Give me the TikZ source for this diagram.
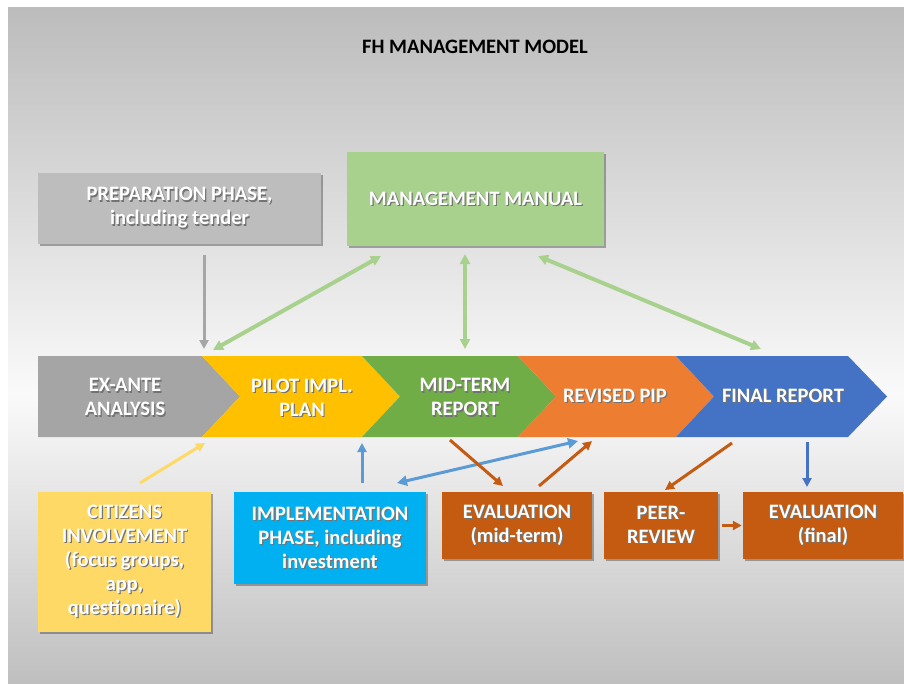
\documentclass[tikz,border=0pt]{standalone}
\usepackage{fontspec}
\setmainfont{Carlito}
\usetikzlibrary{arrows.meta,shadows}
\definecolor{bgtop}{HTML}{BCBCBC}
\definecolor{bgbot}{HTML}{BFBFBF}
\definecolor{bgmid}{HTML}{FAFAFA}
\definecolor{cprep}{HTML}{BDBDBD}
\definecolor{cmm}{HTML}{A9D18E}
\definecolor{cgray}{HTML}{A5A5A5}
\definecolor{cyel}{HTML}{FFC000}
\definecolor{cgreen}{HTML}{70AD47}
\definecolor{corange}{HTML}{ED7D31}
\definecolor{cblue}{HTML}{4472C4}
\definecolor{ccit}{HTML}{FFD966}
\definecolor{cimpl}{HTML}{00B0F0}
\definecolor{ceval}{HTML}{C55A11}
\definecolor{clblue}{HTML}{5B9BD5}
\definecolor{carrgray}{HTML}{A6A6A6}
\newcommand\shl[1]{\makebox[0pt][l]{\hspace{1.2pt}\raisebox{-1.2pt}{\textcolor{black!55}{#1}}}#1}
\tikzset{
  txt/.style={text=white, align=center, inner sep=0pt, font=\fontsize{20.5}{24}\selectfont\bfseries},
  box/.style={txt, inner sep=0pt, drop shadow={shadow xshift=2pt, shadow yshift=-2pt, opacity=.3, fill=black}},
  arr/.style={line width=3pt, -{Triangle[length=9pt,width=9pt]}},
  darr/.style={line width=4pt, {Triangle[length=10pt,width=10pt]}-{Triangle[length=10pt,width=10pt]}},
}
\begin{document}
\begin{tikzpicture}[x=1pt,y=-1pt]
\useasboundingbox (0,0) rectangle (904,683);
\fill[white] (0,0) rectangle (904,683);
\shade[top color=bgtop, bottom color=bgmid] (8,7) rectangle (904,395);
\shade[top color=bgmid, bottom color=bgbot] (8,394.5) rectangle (904,683);

% title
\node[font=\fontsize{20.5}{24}\selectfont\bfseries, inner sep=0pt] (title) at (475,47) {FH MANAGEMENT MODEL};

% top boxes
\node[box, fill=cprep, minimum width=283pt, minimum height=71pt] (prep) at (179.5,208.5)
  {\shl{PREPARATION PHASE,}\\\shl{including tender}};
\node[box, fill=cmm, minimum width=257pt, minimum height=94pt] (mm) at (475.5,199)
  {\shl{MANAGEMENT MANUAL}};

% chevrons
\fill[cgray] (38,356) -- (202,356) -- (240,396.5) -- (202,437) -- (38,437) -- cycle;
\fill[cyel] (202,356) -- (362,356) -- (400,396.5) -- (362,437) -- (202,437) -- (240,396.5) -- cycle;
\fill[cgreen] (362,356) -- (518,356) -- (556,396.5) -- (518,437) -- (362,437) -- (400,396.5) -- cycle;
\fill[corange] (518,356) -- (676,356) -- (714,396.5) -- (676,437) -- (518,437) -- (556,396.5) -- cycle;
\fill[cblue] (676,356) -- (848,356) -- (887,396.5) -- (848,437) -- (676,437) -- (714,396.5) -- cycle;
\node[txt] (exante) at (125,398) {\shl{EX-ANTE}\\\shl{ANALYSIS}};
\node[txt] (pilot) at (302,398) {\shl{PILOT IMPL.}\\\shl{PLAN}};
\node[txt] (midterm) at (465,398) {\shl{MID-TERM}\\\shl{REPORT}};
\node[txt] (revised) at (615,396) {\shl{REVISED PIP}};
\node[txt] (final) at (783,396) {\shl{FINAL REPORT}};

% bottom boxes
\node[box, fill=ccit, minimum width=173pt, minimum height=140pt] (cit) at (124.5,562)
  {\shl{CITIZENS}\\\shl{INVOLVEMENT}\\\shl{(focus groups,}\\\shl{app,}\\\shl{questionaire)}};
\node[box, fill=cimpl, minimum width=192pt, minimum height=92pt] (impl) at (330,538)
  {\shl{IMPLEMENTATION}\\\shl{PHASE, including}\\\shl{investment}};
\node[box, fill=ceval, minimum width=150pt, minimum height=67pt] (evalm) at (517,525.5)
  {\shl{EVALUATION}\\\shl{(mid-term)}};
\node[box, fill=ceval, minimum width=114pt, minimum height=67pt] (peer) at (661,525.5)
  {\shl{PEER-}\\\shl{REVIEW}};
\node[box, fill=ceval, minimum width=160pt, minimum height=67pt] (evalf) at (823,525.5)
  {\shl{EVALUATION}\\\shl{(final)}};

% connector end points
\coordinate (g1) at (204,255);   \coordinate (g2) at (204,349);
\coordinate (m1) at (381,256);   \coordinate (m2) at (213,350);
\coordinate (m3) at (465,254);   \coordinate (m4) at (465,349);
\coordinate (m5) at (538,256);   \coordinate (m6) at (761,349);
\coordinate (y1) at (140,483);   \coordinate (y2) at (205,443);
\coordinate (b1) at (362,483);   \coordinate (b2) at (362,443);
\coordinate (b3) at (397,483);   \coordinate (b4) at (578,441);
\coordinate (o1) at (450,440);   \coordinate (o2) at (503,486);
\coordinate (o3) at (539,486);   \coordinate (o4) at (592,441);
\coordinate (o5) at (732,443);   \coordinate (o6) at (665,490);
\coordinate (d1) at (807,442);   \coordinate (d2) at (807,487);
\coordinate (p1) at (peer.east); \coordinate (p2) at (evalf.west);

% connectors
\draw[arr, carrgray] (g1) -- (g2);
\draw[darr, cmm] (m1) -- (m2);
\draw[darr, cmm] (m3) -- (m4);
\draw[darr, cmm] (m5) -- (m6);
\draw[arr, ccit] (y1) -- (y2);
\draw[arr, clblue] (b1) -- (b2);
\draw[darr, clblue, line width=3pt] (b3) -- (b4);
\draw[arr, ceval] (o1) -- (o2);
\draw[arr, ceval] (o3) -- (o4);
\draw[arr, ceval] (o5) -- (o6);
\draw[arr, cblue] (d1) -- (d2);
\draw[arr, ceval] ([xshift=4pt]p1) -- ([xshift=-1pt]p2);
\end{tikzpicture}
\end{document}
